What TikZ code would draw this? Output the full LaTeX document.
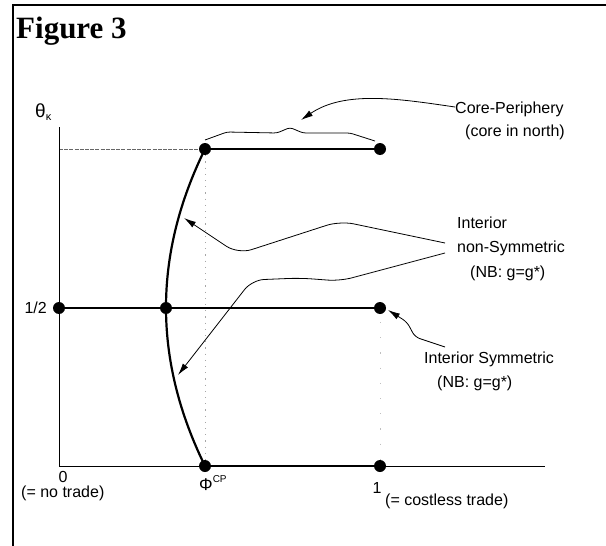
\documentclass[tikz,border=0pt]{standalone}
\usepackage{fontspec}
\setmainfont{Liberation Sans}
\newfontfamily\titlefont{Liberation Serif}
\usetikzlibrary{arrows.meta}
\begin{document}
\begin{tikzpicture}[x=1pt,y=-1pt,
  lab/.style={inner sep=0pt, font=\fontsize{16}{19}\selectfont},
  dot/.style={circle, fill=black, inner sep=0pt, minimum size=12pt},
  heavy/.style={line width=2.4pt},
  axis/.style={line width=1pt},
  conn/.style={line width=0.8pt},
  tipped/.style={conn, -{Latex[length=12pt,width=6.5pt]}},
  guide/.style={gray!70, line width=0.8pt, dash pattern=on 1.2pt off 5pt},
]
\useasboundingbox (0,0) rectangle (606,546);
% frame
\draw[line width=2.2pt] (606,5) -- (13,5) -- (13,546);
\node[inner sep=0pt, anchor=base west, font=\titlefont\bfseries\fontsize{31}{34}\selectfont] (title) at (16,38) {Figure 3};

% positions
\coordinate (o) at (59,466);
\coordinate (ytop) at (59,127);
\coordinate (xend) at (545,466);
\coordinate (yl) at (59,149);
\coordinate (pT) at (205,149);
\coordinate (oneT) at (380,149);
\coordinate (half) at (59,308);
\coordinate (pM) at (166,308);
\coordinate (oneM) at (380,308);
\coordinate (pB) at (205,466);
\coordinate (oneB) at (380,466);

% guides
\draw[gray!80!black, line width=0.7pt, dash pattern=on 4pt off 1.2pt] (yl) -- (pT);
\draw[guide] (pT) -- (pB);
\draw[gray!50, line width=0.8pt, dash pattern=on 1.2pt off 14pt] (380,322) -- (oneB);

% axes
\draw[axis] (ytop) -- (o) -- (xend);

% equilibrium lines
\draw[heavy] (pT) -- (oneT);
\draw[heavy] (half) -- (oneM);
\draw[heavy] (pB) -- (oneB);
\draw[line width=2.2pt] (pT) .. controls (153,255) and (153,360) .. (pB);

% dots
\foreach \c in {pT,oneT,half,pM,oneM,pB,oneB}
  \node[dot] (d\c) at (\c) {};

% brace
\draw[conn, rounded corners=3pt] (205,140) -- (227,132) -- (277,133) -- (290,127.5) -- (303,133) -- (350,133) -- (375,141);
\coordinate (bt) at (301,120);

% labels
\node[lab, anchor=base west] (cp1) at (455,113) {Core-Periphery};
\node[lab, anchor=base west] (cp2) at (465,136) {(core in north)};
\node[lab, anchor=base west] (ns1) at (457,228) {Interior};
\node[lab, anchor=base west] (ns2) at (457,252) {non-Symmetric};
\node[lab, anchor=base west] (ns3) at (470,277) {(NB: g=g*)};
\node[lab, anchor=base west] (is1) at (424,363) {Interior Symmetric};
\node[lab, anchor=base west] (is2) at (437,387) {(NB: g=g*)};

\node[lab, anchor=base west] (th) at (35,117) {{\fontsize{19}{22}\selectfont θ}\raisebox{-0.4ex}{\fontsize{11}{13}\selectfont κ}};
\node[lab, anchor=base east] (hl) at (47,313) {1/2};
\node[lab, anchor=base] (zero) at (63,482) {0};
\node[lab, anchor=base west] (nt) at (21,497) {(= no trade)};
\node[lab, anchor=base west] (phi) at (199,490) {{\fontsize{17}{20}\selectfont Φ}\raisebox{0.9ex}{\fontsize{10}{12}\selectfont CP}};
\node[lab, anchor=base] (one) at (377,493) {1};
\node[lab, anchor=base west] (ct) at (385,505) {(= costless trade)};

% connectors
\coordinate (cpS) at (455,107);
\draw[tipped] (cpS) .. controls (400,99) and (345,90) .. (bt);
\coordinate (ns2S) at (445,243);
\coordinate (ns2E) at (184,218);
\draw[tipped, rounded corners=14pt] (ns2S) -- (340,221) -- (238,254) -- (ns2E);
\coordinate (ns3S) at (445,253);
\coordinate (ns3E) at (178,375);
\draw[tipped, rounded corners=12pt] (ns3S) -- (340,281) -- (300,278) -- (252,280) -- (ns3E);
\coordinate (isS) at (445,347);
\coordinate (isE) at (388,310);
\draw[tipped, rounded corners=5pt] (isS) -- (415,337) -- (407,322) -- (isE);
\end{tikzpicture}
\end{document}
